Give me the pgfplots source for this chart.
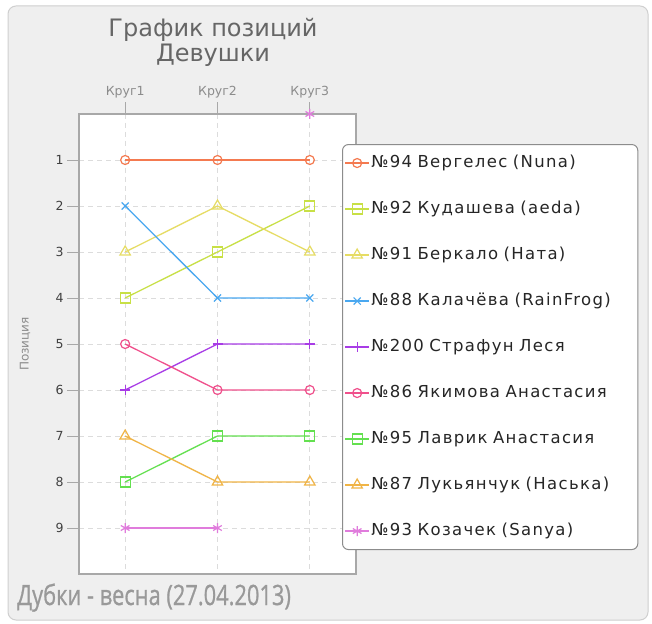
\documentclass[border=0pt]{standalone}
\usepackage{fontspec}
\setmainfont{DejaVu Sans}
\newfontfamily\condfont[FakeBold=1]{Open Sans}
\newfontfamily\legfont[LetterSpace=8]{DejaVu Sans}
\usepackage{pgfplots}
\pgfplotsset{compat=1.18}
\definecolor{bgc}{HTML}{EFEFEF}
\definecolor{bordc}{HTML}{CFCFCF}
\definecolor{axc}{HTML}{A8A8A8}
\definecolor{gridc}{HTML}{DCDCDC}
\definecolor{c94}{HTML}{F47A50}
\definecolor{c92}{HTML}{C8E046}
\definecolor{c91}{HTML}{E6DC64}
\definecolor{c88}{HTML}{4AA8F0}
\definecolor{c200}{HTML}{A83CE6}
\definecolor{c86}{HTML}{F0508C}
\definecolor{c95}{HTML}{64E050}
\definecolor{c87}{HTML}{F0B446}
\definecolor{c93}{HTML}{E07CDC}
\tikzset{sty/.style={line width=1.3pt, solid, mark options={solid, fill=white, line width=1.2pt}}}
\begin{document}
\begin{tikzpicture}[x=1pt,y=1pt]
\fill[white] (0,0) rectangle (652,623);
\draw[bordc, fill=bgc, line width=1pt, rounded corners=8pt] (8,3) rectangle (648,617);
\node[text=black!60, font=\fontsize{24}{25}\selectfont, align=center] at (213,581) {График позиций\\Девушки};
\node[anchor=base west, text=black!40, inner sep=0pt] at (17,18) {\condfont\fontsize{28}{30}\selectfont\scalebox{0.78}[1]{Дубки - весна (27.04.2013)}};
\begin{axis}[
  at={(79pt,49pt)}, anchor=south west, scale only axis,
  width=277pt, height=460pt,
  xmin=0.5, xmax=3.5, ymin=0, ymax=10, y dir=reverse,
  xtick={1,2,3}, xticklabels={Круг1,Круг2,Круг3},
  ytick={1,...,9},
  xticklabel pos=upper, xtick pos=upper, ytick pos=left,
  tick align=outside, major tick length=12pt,
  tick style={axc, line width=0.8pt},
  axis line style={axc, line width=1.2pt},
  axis background/.style={fill=white},
  grid=major, grid style={gridc, dash pattern=on 5pt off 4pt, line width=0.9pt},
  xticklabel style={text=black!45, font=\fontsize{12.5}{14}\selectfont},
  yticklabel style={text=black!75, font=\fontsize{12.5}{14}\selectfont},
  /pgf/number format/assume math mode=true,
  ylabel={Позиция}, ylabel style={text=black!45, font=\fontsize{12}{14}\selectfont, anchor=center, at={(axis description cs:-0.195,0.5)}},
  clip=false,
  unbounded coords=jump,
  legend image code/.code={\draw[mark repeat=2,mark phase=2] plot coordinates {(0pt,0pt)(12pt,0pt)(24pt,0pt)};},
  legend cell align=left,
  legend style={at={(axis description cs:0.9495,0.9347)}, anchor=north west,
    draw=black!45, line width=1pt, fill=white, rounded corners=6pt,
    font=\legfont\fontsize{16.5}{18}\selectfont, text=black!85,
    nodes={inner sep=1.5pt, text height=12pt, text depth=4pt},
    row sep=27pt, inner xsep=2pt, inner ysep=9pt,
    /tikz/every even column/.append style={text width=263pt}},
]
\addplot[sty, c94, mark=o, mark size=4.5pt] coordinates {(1,1) (2,1) (3,1)};
\addlegendentry{№94 Вергелес (Nuna)}
\addplot[sty, c92, mark=square, mark size=5pt] coordinates {(1,4) (2,3) (3,2)};
\addlegendentry{№92 Кудашева (aeda)}
\addplot[sty, c91, mark=triangle, mark size=6pt] coordinates {(1,3) (2,2) (3,3)};
\addlegendentry{№91 Беркало (Ната)}
\addplot[sty, c88, mark=x, mark size=5pt] coordinates {(1,2) (2,4) (3,4)};
\addlegendentry{№88 Калачёва (RainFrog)}
\addplot[sty, c200, mark=+, mark size=5pt] coordinates {(1,6) (2,5) (3,5)};
\addlegendentry{№200 Страфун Леся}
\addplot[sty, c86, mark=o, mark size=4.5pt] coordinates {(1,5) (2,6) (3,6)};
\addlegendentry{№86 Якимова Анастасия}
\addplot[sty, c95, mark=square, mark size=5pt] coordinates {(1,8) (2,7) (3,7)};
\addlegendentry{№95 Лаврик Анастасия}
\addplot[sty, c87, mark=triangle, mark size=6pt] coordinates {(1,7) (2,8) (3,8)};
\addlegendentry{№87 Лукьянчук (Наська)}
\addplot[sty, c93, mark=asterisk, mark size=5pt] coordinates {(1,9) (2,9) (2.5,nan) (3,0)};
\addlegendentry{№93 Козачек (Sanya)}
\end{axis}
\end{tikzpicture}
\end{document}
